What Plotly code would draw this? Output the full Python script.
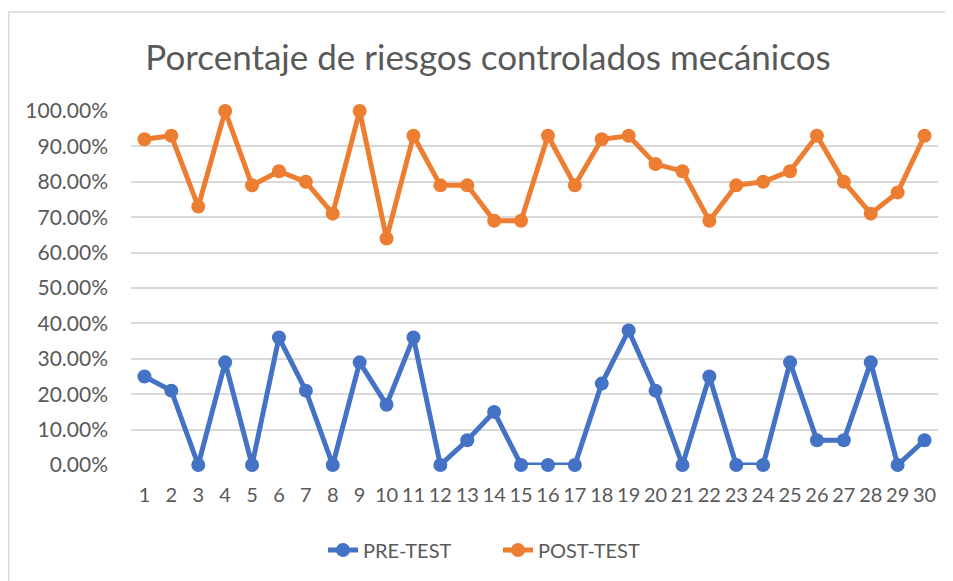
import plotly.graph_objects as go

categories = [str(i) for i in range(1, 31)]
pre_test = [25, 21, 0, 29, 0, 36, 21, 0, 29, 17, 36, 0, 7, 15, 0, 0, 0, 23, 38, 21, 0, 25, 0, 0, 29, 7, 7, 29, 0, 7]
post_test = [92, 93, 73, 100, 79, 83, 80, 71, 100, 64, 93, 79, 79, 69, 69, 93, 79, 92, 93, 85, 83, 69, 79, 80, 83, 93, 80, 71, 77, 93]
y_ticks = [i / 10 for i in range(11)]

pre = [v / 100 for v in pre_test]
post = [v / 100 for v in post_test]

OFF = 8  # page body margin
W, H = 953 - OFF, 581 - OFF
L, R, T, B = 131 - OFF, W - (938 - OFF), 111 - OFF, H - (465 - OFF)
pw, ph = W - L - R, H - T - B

def px_x(p):
    return (p - OFF - L) / pw

def px_y(p):
    return (H - B - (p - OFF)) / ph

fig = go.Figure()
fig.add_trace(go.Scatter(x=categories, y=pre, name="PRE-TEST", mode="lines+markers",
                         line=dict(color="#4472C4", width=5), marker=dict(size=14, color="#4472C4"),
                         cliponaxis=False))
fig.add_trace(go.Scatter(x=categories, y=post, name="POST-TEST", mode="lines+markers",
                         line=dict(color="#ED7D31", width=5), marker=dict(size=14, color="#ED7D31"),
                         cliponaxis=False))

txt = "#595959"
fig.update_layout(
    width=W, height=H,
    margin=dict(l=L, r=R, t=T, b=B, autoexpand=False),
    paper_bgcolor="white", plot_bgcolor="white",
    font=dict(family="Lato", color=txt, size=20),
    title=dict(text="Porcentaje de riesgos controlados mecánicos", x=(488 - OFF) / W, xanchor="center",
               y=1 - (58 - OFF) / H, yanchor="middle", yref="container",
               font=dict(family="Lato", size=35, color=txt)),
    showlegend=True,
    legend=dict(orientation="h", x=px_x(498), xanchor="center", y=px_y(550), yanchor="middle",
                font=dict(size=20, color=txt), entrywidth=130, entrywidthmode="pixels"),
    xaxis=dict(type="category", range=[-0.5, 29.5], showgrid=False, showline=False, zeroline=False,
               ticks="", tickfont=dict(size=20, color=txt), ticklabelstandoff=16),
    yaxis=dict(range=[0, 1], tickvals=y_ticks, tickformat=".2%", showgrid=True, gridcolor="#D9D9D9",
               gridwidth=1.5, zeroline=False, showline=False, ticks="",
               tickfont=dict(size=21, color=txt), ticklabelstandoff=22),
    shapes=[
        dict(type="line", xref="paper", yref="paper", x0=px_x(8), x1=px_x(953), y0=px_y(12), y1=px_y(12),
             line=dict(color="#D9D9D9", width=1.5)),
        dict(type="line", xref="paper", yref="paper", x0=px_x(8.7), x1=px_x(8.7), y0=px_y(12), y1=px_y(581),
             line=dict(color="#D9D9D9", width=1.5)),
    ],
)

fig.write_html("out.html")
